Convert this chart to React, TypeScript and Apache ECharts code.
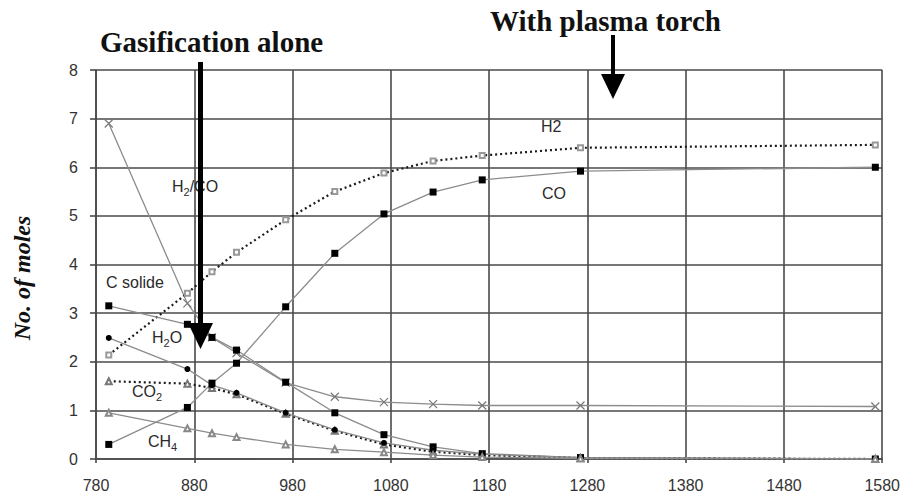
import React, { useEffect, useRef } from "react";
import * as echarts from "echarts";

const temps = [793, 873, 898, 923, 973, 1023, 1073, 1123, 1173, 1273, 1573];
const h2co = [6.9, 3.2, 2.5, 2.18, 1.57, 1.28, 1.17, 1.13, 1.1, 1.1, 1.08];
const h2 = [2.14, 3.41, 3.85, 4.25, 4.92, 5.5, 5.88, 6.13, 6.24, 6.4, 6.46];
const co = [0.3, 1.06, 1.56, 1.97, 3.13, 4.23, 5.04, 5.49, 5.74, 5.92, 6.0];
const cSolide = [3.15, 2.77, 2.5, 2.24, 1.58, 0.95, 0.5, 0.25, 0.11, 0.03, 0.0];
const h2o = [2.49, 1.85, 1.52, 1.36, 0.95, 0.6, 0.33, 0.18, 0.1, 0.03, 0.0];
const co2 = [1.6, 1.55, 1.46, 1.33, 0.93, 0.58, 0.3, 0.15, 0.08, 0.02, 0.0];
const ch4 = [0.95, 0.63, 0.53, 0.45, 0.3, 0.2, 0.14, 0.08, 0.04, 0.01, 0.0];

const xTicks = { min: 780, max: 1580, interval: 100 };
const yTicks = { min: 0, max: 8, interval: 1 };

const pair = (ys: number[]) => temps.map((t, i) => [t, ys[i]]);

const SANS = "Liberation Sans, Arial, sans-serif";
const SERIF = "Liberation Serif, Times New Roman, serif";

const rich = {
  n: { fontSize: 16, lineHeight: 18, verticalAlign: "top", fill: "#2a2a2a", fontFamily: SANS },
  s: { fontSize: 11, lineHeight: 12, padding: [8, 0, 0, 0], verticalAlign: "top", fill: "#2a2a2a", fontFamily: SANS },
};

const lbl = (text: string, x: number, y: number) => ({
  type: "text",
  x,
  y,
  z: 50,
  style: { text, rich, fontSize: 16, fontFamily: SANS, fill: "#2a2a2a" },
});

export default function App() {
  const ref = useRef<HTMLDivElement>(null);
  useEffect(() => {
    const chart = echarts.init(ref.current!, null, { renderer: "svg" });
    const gridColor = "#4a4a4a";
    const solid = { color: "#8c8c8c", width: 1.3 };
    const dotted = { color: "#1c1c1c", width: 2.2, type: [2, 3] };
    const cross = "path://M0,0L10,10M10,0L0,10";
    const labelStyle = { margin: 18, color: "#333", fontSize: 16, fontFamily: SANS, formatter: (v: number) => String(v) };
    chart.setOption({
      animation: false,
      backgroundColor: "#ffffff",
      grid: { left: 96, right: 14, top: 70, bottom: 35 },
      xAxis: {
        type: "value",
        ...xTicks,
        axisLine: { show: true, lineStyle: { color: gridColor, width: 1.6 } },
        axisTick: { show: true, length: 4, lineStyle: { color: gridColor, width: 1.6 } },
        axisLabel: labelStyle,
        splitLine: { show: true, lineStyle: { color: gridColor, width: 1.6 } },
      },
      yAxis: {
        type: "value",
        ...yTicks,
        axisLine: { show: true, lineStyle: { color: gridColor, width: 1.6 } },
        axisTick: { show: true, length: 6, lineStyle: { color: gridColor, width: 1.6 } },
        axisLabel: labelStyle,
        splitLine: { show: true, lineStyle: { color: gridColor, width: 1.6 } },
      },
      series: [
        {
          name: "H2/CO", type: "line", data: pair(h2co), symbol: cross, symbolSize: 8,
          lineStyle: solid, itemStyle: { color: "transparent", borderColor: "#777", borderWidth: 1.2 },
        },
        {
          name: "H2", type: "line", data: pair(h2), symbol: "emptyRect", symbolSize: 5,
          lineStyle: dotted, itemStyle: { color: "#999", borderColor: "#999", borderWidth: 1 },
        },
        {
          name: "CO", type: "line", data: pair(co), symbol: "rect", symbolSize: 7,
          lineStyle: solid, itemStyle: { color: "#000" },
        },
        {
          name: "C solide", type: "line", data: pair(cSolide), symbol: "rect", symbolSize: 7,
          lineStyle: solid, itemStyle: { color: "#000" },
        },
        {
          name: "CO2", type: "line", data: pair(co2), symbol: "emptyTriangle", symbolSize: 6,
          lineStyle: dotted, itemStyle: { color: "#777", borderColor: "#777", borderWidth: 1 },
        },
        {
          name: "H2O", type: "line", data: pair(h2o), symbol: "circle", symbolSize: 6,
          lineStyle: solid, itemStyle: { color: "#000" },
        },
        {
          name: "CH4", type: "line", data: pair(ch4), symbol: "emptyTriangle", symbolSize: 6,
          lineStyle: solid, itemStyle: { color: "#888", borderColor: "#888", borderWidth: 1 },
        },
      ],
      graphic: [
        lbl("{n|H}{s|2}{n|/CO}", 172, 178),
        lbl("{n|H2}", 541, 118),
        lbl("{n|CO}", 542, 185),
        lbl("{n|C solide}", 106, 274),
        lbl("{n|H}{s|2}{n|O}", 152, 329),
        lbl("{n|CO}{s|2}", 132, 383),
        lbl("{n|CH}{s|4}", 148, 433),
        {
          type: "text", x: 100, y: 42, z: 60,
          style: { text: "Gasification alone", fontSize: 29, fontWeight: "bold", fontFamily: SERIF, fill: "#111", verticalAlign: "middle" },
        },
        {
          type: "text", x: 490, y: 21, z: 60,
          style: { text: "With plasma torch", fontSize: 29, fontWeight: "bold", fontFamily: SERIF, fill: "#111", verticalAlign: "middle" },
        },
        {
          type: "text", x: 22, y: 278, z: 60, rotation: Math.PI / 2,
          style: { text: "No. of moles", fontSize: 24, fontWeight: "bold", fontStyle: "italic", fontFamily: SERIF, fill: "#111", align: "center", verticalAlign: "middle" },
        },
        { type: "rect", z: 70, shape: { x: 198, y: 62, width: 5, height: 264 }, style: { fill: "#000" } },
        { type: "polygon", z: 70, shape: { points: [[188, 323], [213, 323], [200.5, 349]] }, style: { fill: "#000" } },
        { type: "rect", z: 70, shape: { x: 611, y: 35, width: 4, height: 42 }, style: { fill: "#000" } },
        { type: "polygon", z: 70, shape: { points: [[601, 74], [625, 74], [613, 99]] }, style: { fill: "#000" } },
      ],
    });
    return () => chart.dispose();
  }, []);
  return (
    <div
      ref={ref}
      style={{ position: "absolute", left: 0, top: 0, width: 903, height: 494, background: "#fff" }}
    />
  );
}
